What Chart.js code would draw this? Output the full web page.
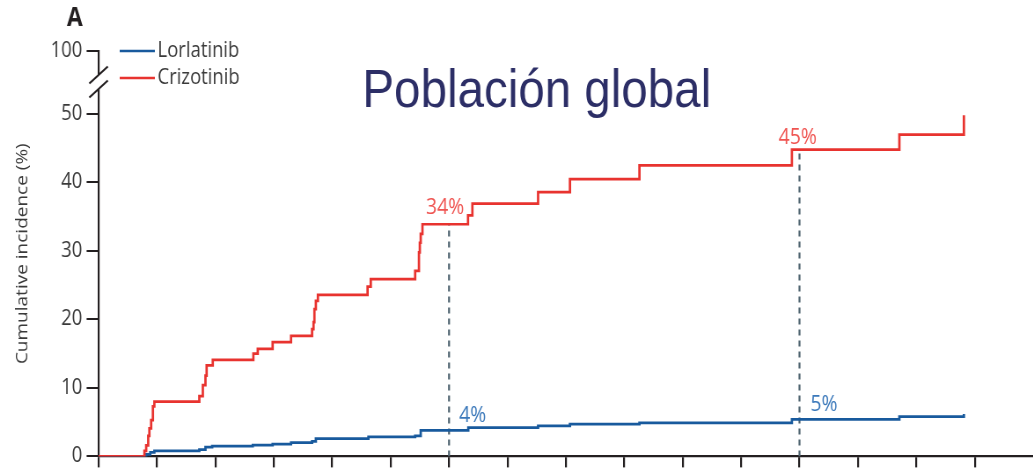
<!DOCTYPE html>
<html>
<head>
<meta charset="utf-8">
<script src="https://cdn.jsdelivr.net/npm/chart.js@4.4.1/dist/chart.umd.min.js"></script>
<style>
  html, body { margin: 0; padding: 0; background: #ffffff; overflow: hidden; }
  /* the figure is set in a slightly condensed proportion */
  #frame { width: 1174px; height: 474px; transform: scaleX(0.88); transform-origin: 0 0; }
</style>
</head>
<body>
<div id="frame"><canvas id="cif" width="1174" height="474"></canvas></div>
<script>
// Cumulative incidence (%) by month, step points (time of event, new level)
const crizotinibMonths = [0, 1.57, 1.63, 1.70, 1.74, 1.80, 1.86, 1.91, 3.45, 3.57, 3.66, 3.70, 3.91, 5.30, 5.45, 5.96, 6.59, 7.31, 7.36, 7.39, 7.44, 7.51, 9.21, 9.32, 10.84, 10.97, 11.00, 11.03, 11.09, 12.65, 12.80, 15.05, 16.14, 18.52, 23.74, 27.42, 29.63];
const crizotinibIncidence = [0, 0.8, 1.6, 3.0, 4.1, 5.3, 7.3, 8.0, 8.8, 10.4, 11.8, 13.3, 14.1, 15.0, 15.7, 16.7, 17.6, 18.6, 19.6, 21.5, 22.7, 23.6, 24.8, 25.9, 27.1, 29.8, 31.2, 32.5, 33.9, 35.2, 36.9, 38.6, 40.5, 42.5, 44.8, 47.0, 49.8];

const lorlatinibMonths = [0, 1.63, 1.77, 1.91, 3.45, 3.66, 3.89, 5.28, 5.96, 6.59, 7.31, 7.44, 9.24, 10.84, 11.03, 12.66, 15.05, 16.14, 18.52, 23.74, 27.42, 29.63];
const lorlatinibIncidence = [0, 0.3, 0.6, 0.8, 1.0, 1.35, 1.5, 1.65, 1.8, 2.0, 2.2, 2.6, 2.85, 3.0, 3.8, 4.2, 4.45, 4.7, 4.9, 5.4, 5.8, 6.2];

// landmark times marked with a dashed line and the rates at that time
const landmarkMonths = [12, 24];

// axes
const xTicks = [0, 2, 4, 6, 8, 10, 12, 14, 16, 18, 20, 22, 24, 26, 28, 30];
const yTicks = [0, 10, 20, 30, 40, 50];
const yBreakTop = 59.2;        // top of the broken axis, labelled 100
const yBreakTopLabel = '100';
const xMax = 32;

const RED = '#e8332f';
const RED_TEXT = '#ef5350';
const BLUE = '#185a9d';
const BLUE_TEXT = '#3a78ba';
const AXIS = '#231f20';
const TEXT = '#3a3a3a';
const DASH = '#4f6470';

const toPoints = (xs, ys) => xs.map((x, i) => ({ x: x, y: ys[i] }));
const levelAt = (xs, ys, t) => {
  let v = ys[0];
  for (let i = 0; i < xs.length; i++) if (xs[i] <= t) v = ys[i];
  return v;
};

const landmarkSets = landmarkMonths.map(t => ({
  data: [{ x: t, y: 0 }, { x: t, y: levelAt(crizotinibMonths, crizotinibIncidence, t) }],
  borderColor: DASH, borderWidth: 2.2, borderDash: [6, 5],
  pointRadius: 0, order: 3
}));

const annotate = {
  id: 'annotate',
  afterDraw(chart) {
    const { ctx, scales: { x, y }, chartArea } = chart;
    ctx.save();

    // axis break between 50 and 100
    const ax = chartArea.left;
    const s1 = y.top + 24, s2 = y.top + 38;
    ctx.fillStyle = '#ffffff';
    ctx.fillRect(ax - 4, s1, 8, s2 - s1);
    ctx.strokeStyle = AXIS; ctx.lineWidth = 2.2; ctx.lineCap = 'butt';
    [s1, s2].forEach(c => {
      ctx.beginPath();
      ctx.moveTo(ax - 10.5, c + 8.5);
      ctx.lineTo(ax + 10.5, c - 8.5);
      ctx.stroke();
    });

    // legend
    const legendItems = [['Lorlatinib', BLUE, 51], ['Crizotinib', RED, 78]];
    ctx.font = '21px "Open Sans", sans-serif';
    ctx.textBaseline = 'middle'; ctx.textAlign = 'left';
    legendItems.forEach(([name, col, ly]) => {
      ctx.strokeStyle = col; ctx.lineWidth = 2.5;
      ctx.beginPath(); ctx.moveTo(136, ly); ctx.lineTo(176, ly); ctx.stroke();
      ctx.fillStyle = TEXT;
      ctx.fillText(name, 179, ly + 0.5);
    });

    // panel letter
    ctx.font = 'bold 26px "Open Sans", sans-serif';
    ctx.fillStyle = '#231f20';
    ctx.textBaseline = 'alphabetic';
    ctx.fillText('A', 76, 26);

    // heading
    ctx.font = '54px "Liberation Sans", Arial, sans-serif';
    ctx.fillStyle = '#2c2e66';
    ctx.textAlign = 'center';
    ctx.fillText('Población global', 610, 107);

    // rates at the landmark times
    ctx.font = '22px "Open Sans", sans-serif';
    landmarkMonths.forEach((t, i) => {
      const px = x.getPixelForValue(t);
      const rc = levelAt(crizotinibMonths, crizotinibIncidence, t);
      const rl = levelAt(lorlatinibMonths, lorlatinibIncidence, t);
      ctx.fillStyle = RED_TEXT; ctx.textAlign = 'center';
      ctx.fillText(Math.round(rc) + '%', px + (i === 0 ? -4.5 : -2), y.getPixelForValue(rc) - (i === 0 ? 10 : 6));
      ctx.fillStyle = BLUE_TEXT; ctx.textAlign = 'left';
      ctx.fillText(Math.round(rl) + '%', px + (i === 0 ? 11.5 : 12.5), y.getPixelForValue(rl) - 8);
    });
    ctx.restore();
  }
};

Chart.defaults.font.family = '"Open Sans", sans-serif';

new Chart(document.getElementById('cif'), {
  type: 'line',
  data: {
    datasets: [
      { label: 'Crizotinib', data: toPoints(crizotinibMonths, crizotinibIncidence),
        borderColor: RED, borderWidth: 2.7, stepped: 'before', pointRadius: 0, order: 1 },
      { label: 'Lorlatinib', data: toPoints(lorlatinibMonths, lorlatinibIncidence),
        borderColor: BLUE, borderWidth: 2.7, stepped: 'before', pointRadius: 0, order: 2 },
      ...landmarkSets
    ]
  },
  options: {
    responsive: false,
    animation: false,
    events: [],
    layout: { padding: { left: 0, top: 51, right: 0, bottom: 5 } },
    plugins: { legend: { display: false }, tooltip: { enabled: false } },
    scales: {
      x: {
        type: 'linear', min: 0, max: xMax,
        afterBuildTicks: s => { s.ticks = xTicks.map(v => ({ value: v })); },
        ticks: { display: false },
        grid: { drawOnChartArea: false, drawTicks: true, tickLength: 11, color: AXIS, lineWidth: 2.2 },
        border: { color: AXIS, width: 2.2 }
      },
      y: {
        type: 'linear', min: 0, max: yBreakTop,
        afterBuildTicks: s => { s.ticks = yTicks.concat([yBreakTop]).map(v => ({ value: v })); },
        afterFit: s => { s.width = 112; },
        ticks: {
          color: TEXT, padding: 5, font: { size: 21 },
          callback: v => (v === yBreakTop ? yBreakTopLabel : String(v))
        },
        grid: { drawOnChartArea: false, drawTicks: true, tickLength: 13.6, color: AXIS, lineWidth: 2 },
        border: { color: AXIS, width: 2.2 },
        title: { display: true, text: 'Cumulative incidence (%)', color: TEXT,
                 font: { size: 19 }, padding: { top: 14, bottom: 0 } }
      }
    }
  },
  plugins: [annotate]
});
</script>
</body>
</html>
